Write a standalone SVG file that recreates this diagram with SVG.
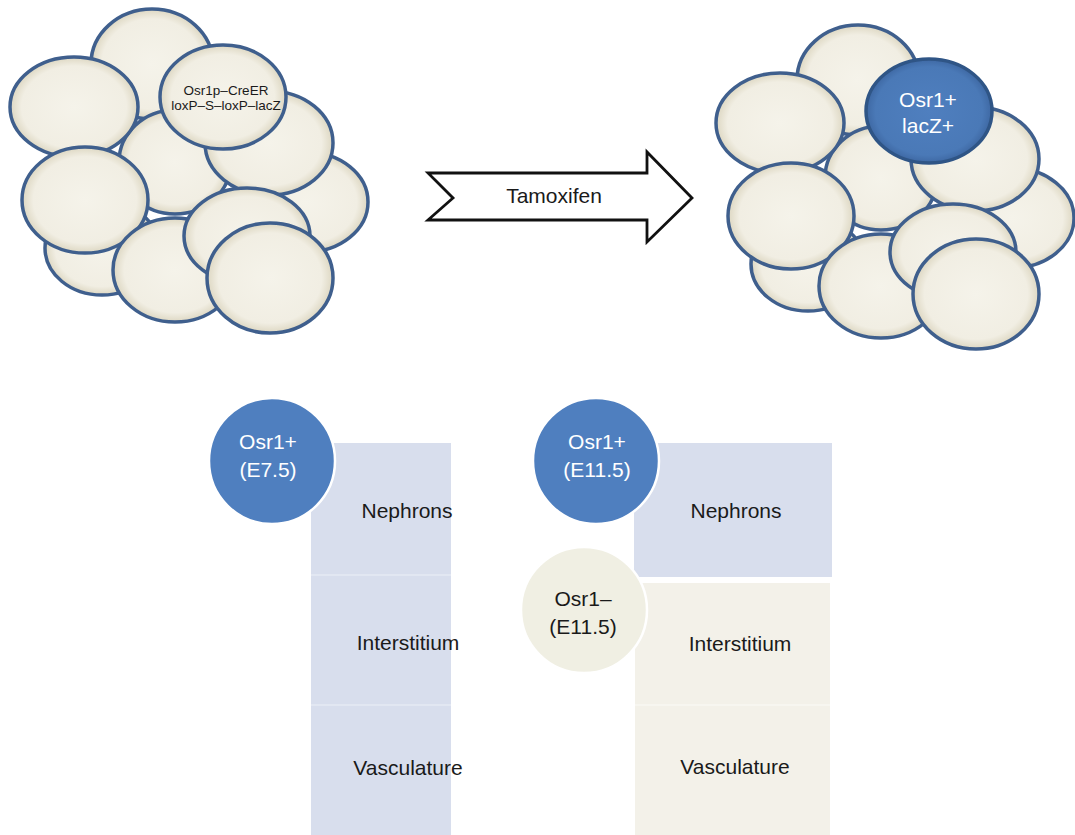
<svg xmlns="http://www.w3.org/2000/svg" width="1075" height="835" viewBox="0 0 1075 835">
<defs>
<radialGradient id="cellFill" cx="50%" cy="50%" r="50%">
<stop offset="0%" stop-color="#f5f3ea"/>
<stop offset="82%" stop-color="#f1eee3"/>
<stop offset="100%" stop-color="#ddd7c2"/>
</radialGradient>
<radialGradient id="blueFill" cx="50%" cy="50%" r="50%">
<stop offset="0%" stop-color="#4f7fbf"/>
<stop offset="85%" stop-color="#4a79b7"/>
<stop offset="100%" stop-color="#3e68a3"/>
</radialGradient>
<g id="cluster" fill="url(#cellFill)" stroke="#3f5f8d" stroke-width="3.5">
<ellipse cx="152" cy="64" rx="61" ry="55"/>
<ellipse cx="306" cy="202" rx="62" ry="50"/>
<ellipse cx="175" cy="162" rx="56" ry="52"/>
<ellipse cx="102" cy="248" rx="57" ry="47"/>
<ellipse cx="74" cy="107" rx="64" ry="50"/>
<ellipse cx="269" cy="143" rx="64" ry="52"/>
<ellipse cx="85" cy="200" rx="63" ry="53"/>
<ellipse cx="175" cy="270" rx="62" ry="52"/>
<ellipse cx="247" cy="236" rx="63" ry="48"/>
<ellipse cx="270" cy="278" rx="63" ry="55"/>
</g>
</defs>
<style>
.cell{fill:url(#cellFill);stroke:#3f5f8d;stroke-width:3.5}
.blueCell{fill:url(#blueFill);stroke:#2f5586;stroke-width:3.5}
.t{font-family:"Liberation Sans",Arial,sans-serif;text-anchor:middle;fill:#1a1a1a}
.w{fill:#ffffff}
.blueDot{fill:#4f7fbf;stroke:#ffffff;stroke-width:2.5}
.creamDot{fill:#f0efe3;stroke:#ffffff;stroke-width:2.5}
.blueBox{fill:#d8deed}
.creamBox{fill:#f3f1e9}
.sep{stroke:#e2e7f2;stroke-width:2}
.sepc{stroke:#f7f6f0;stroke-width:2}
</style>
<rect width="1075" height="835" fill="#ffffff"/>

<g id="cluster-before">
<use href="#cluster"/>
<g id="labeled-cell">
<ellipse class="cell" cx="223" cy="97" rx="63" ry="52"/>
<text class="t" x="226" y="95" font-size="13.5">Osr1p–CreER</text>
<text class="t" x="226" y="110" font-size="13.5">loxP–S–loxP–lacZ</text>
</g>
</g>

<g id="cluster-after">
<use href="#cluster" transform="translate(706,16)"/>
<g id="lacZ-cell">
<ellipse class="blueCell" cx="929" cy="111" rx="63" ry="52"/>
<text class="t w" x="928" y="107" font-size="21">Osr1+</text>
<text class="t w" x="928" y="133" font-size="21">lacZ+</text>
</g>
</g>

<g id="connectors">
<g id="tamoxifen-arrow">
<polygon points="428,173 647,173 647,152 692,198 647,242 647,220 428,220 453,198" fill="#ffffff" stroke="#111111" stroke-width="2.8" stroke-linejoin="miter"/>
<text class="t" x="554" y="203" font-size="21">Tamoxifen</text>
</g>
</g>

<g id="left-column">
<rect class="blueBox" x="311" y="443" width="140" height="392"/>
<line class="sep" x1="311" y1="575" x2="451" y2="575"/>
<line class="sep" x1="311" y1="705" x2="451" y2="705"/>
<text class="t" x="407" y="518" font-size="21">Nephrons</text>
<text class="t" x="408" y="650" font-size="21">Interstitium</text>
<text class="t" x="408" y="775" font-size="21">Vasculature</text>
</g>
<g id="osr1-e75">
<circle class="blueDot" cx="272" cy="461" r="63"/>
<text class="t w" x="268" y="449" font-size="21">Osr1+</text>
<text class="t w" x="268" y="477" font-size="21">(E7.5)</text>
</g>

<g id="right-nephrons">
<rect class="blueBox" x="634" y="443" width="198" height="134"/>
<text class="t" x="736" y="518" font-size="21">Nephrons</text>
</g>
<g id="right-cream">
<rect class="creamBox" x="635" y="583" width="195" height="252"/>
<line class="sepc" x1="635" y1="705" x2="830" y2="705"/>
<text class="t" x="740" y="651" font-size="21">Interstitium</text>
<text class="t" x="735" y="774" font-size="21">Vasculature</text>
</g>
<g id="osr1-e115">
<circle class="blueDot" cx="596" cy="461" r="63"/>
<text class="t w" x="597" y="449" font-size="21">Osr1+</text>
<text class="t w" x="597" y="477" font-size="21">(E11.5)</text>
</g>
<g id="osr1neg-e115">
<circle class="creamDot" cx="584" cy="610" r="63"/>
<text class="t" x="583" y="606" font-size="21">Osr1–</text>
<text class="t" x="583" y="634" font-size="21">(E11.5)</text>
</g>
</svg>
